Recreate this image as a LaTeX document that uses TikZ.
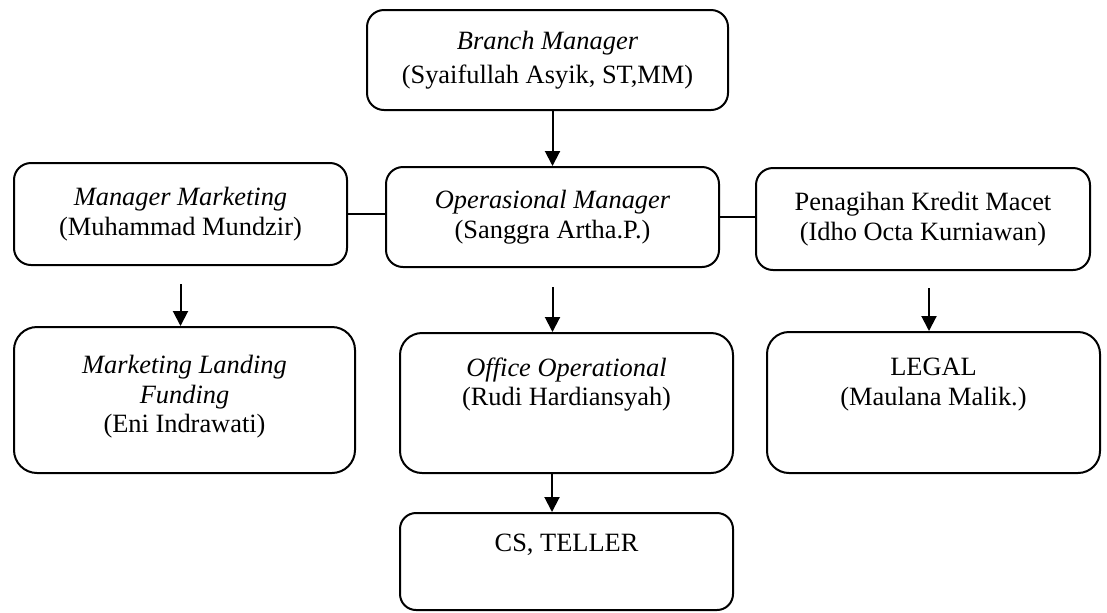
\documentclass[tikz,border=0pt]{standalone}
\usepackage{fontspec}
\setmainfont{Liberation Serif}
\usetikzlibrary{arrows.meta,calc}
\begin{document}
\begin{tikzpicture}[x=0.5pt,y=-0.5pt,
  box/.style={draw,line width=1pt,inner sep=0pt,rounded corners=8.5pt,align=center,
    font=\fontsize{13.2}{14.8}\selectfont},
  txt/.style={inner sep=0pt,align=center,anchor=north,font=\fontsize{13.2}{14.8}\selectfont},
  arr/.style={line width=1pt,-{Triangle[width=7.5pt,length=7.5pt]}},
  con/.style={line width=1pt}]
\useasboundingbox (0,0) rectangle (1107,612);
% boxes
\node[box,minimum width=180.5pt,minimum height=50pt] (bm) at (547.5,60)
  {\textit{Branch Manager}\\[2.5pt](Syaifullah Asyik, ST,MM)};
\node[box,minimum width=166.5pt,minimum height=50pt] (op) at (552.5,217)
  {\textit{Operasional Manager}\\(Sanggra Artha.P.)};
\node[box,minimum width=166.5pt,minimum height=51pt] (mm) at (180.5,214)
  {\textit{Manager Marketing}\\(Muhammad Mundzir)};
\node[box,minimum width=167pt,minimum height=51pt] (pen) at (923,219)
  {Penagihan Kredit Macet\\(Idho Octa Kurniawan)};
\node[box,minimum width=170.5pt,minimum height=73pt,rounded corners=11.5pt] (mlf) at (184.5,400) {};
\node[box,minimum width=166.5pt,minimum height=70pt,rounded corners=11pt] (off) at (566.5,403) {};
\node[box,minimum width=166.5pt,minimum height=70.5pt,rounded corners=11pt] (legal) at (933.5,402.5) {};
\node[box,minimum width=166.5pt,minimum height=48.5pt,rounded corners=8pt] (cs) at (566.5,561.5) {};
% texts in the tall boxes
\node[txt] (mlft) at ([yshift=-14.5pt]mlf.north) {\textit{Marketing Landing}\\\textit{Funding}\\(Eni Indrawati)};
\node[txt] (offt) at ([yshift=-12.5pt]off.north) {\textit{Office Operational}\\(Rudi Hardiansyah)};
\node[txt] (legalt) at ([yshift=-13.5pt]legal.north) {LEGAL\\(Maulana Malik.)};
\node[txt] (cst) at ([yshift=-11pt]cs.north) {CS, TELLER};
% connectors
\draw[arr] (bm.south -| op.north) -- (op.north);
\draw[con] (mm.east) -- (mm.east -| op.west);
\draw[con] (op.east) -- (op.east -| pen.west);
\draw[arr] ($(mm.south)+(0,18)$) -- (mm.south |- mlf.north);
\draw[arr] ($(op.south)+(0,19)$) -- (op.south |- off.north);
\draw[arr] ($(pen.south)+(6,17)$) -- ($(pen.south |- legal.north)+(6,0)$);
\draw[arr] ($(off.south)+(-14.5,0)$) -- ($(off.south |- cs.north)+(-14.5,0)$);
\end{tikzpicture}
\end{document}
